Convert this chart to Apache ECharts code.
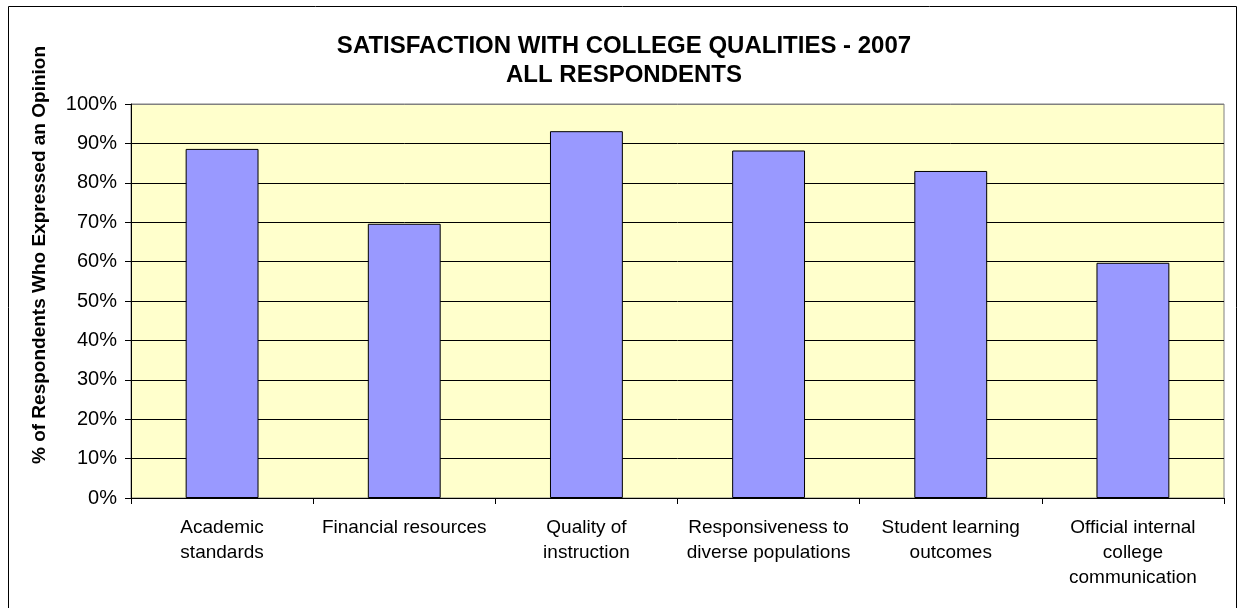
<!DOCTYPE html>
<html>
<head>
<meta charset="utf-8">
<style>
  html, body { margin: 0; padding: 0; background: #ffffff; }
  #chart { width: 1238px; height: 608px; }
</style>
<script src="https://cdn.jsdelivr.net/npm/echarts@6/dist/echarts.min.js"></script>
</head>
<body>
<div id="chart"></div>
<script>
// Survey categories (line breaks as printed under the axis)
const categories = [
  'Academic\nstandards',
  'Financial resources',
  'Quality of\ninstruction',
  'Responsiveness to\ndiverse populations',
  'Student learning\noutcomes',
  'Official internal\ncollege\ncommunication'
];
// Share of respondents satisfied, in percent
const satisfied = [88.6, 69.6, 93.1, 88.2, 83.0, 59.7];
const yTicks = { min: 0, max: 100, interval: 10 };

const chart = echarts.init(document.getElementById('chart'), null, { renderer: 'canvas' });
const FONT = '"Liberation Sans", Arial, sans-serif';

// Gridlines are black; the topmost one sits on the grey plot border
const gridColors = [];
for (let v = yTicks.min; v <= yTicks.max; v += yTicks.interval) {
  gridColors.push(v === yTicks.max ? '#808080' : '#000000');
}

chart.setOption({
  animation: false,
  backgroundColor: '#ffffff',
  title: {
    text: 'SATISFACTION WITH COLLEGE QUALITIES - 2007\nALL RESPONDENTS',
    left: 619,
    top: 27,
    textAlign: 'center',
    textStyle: { fontFamily: FONT, fontSize: 24, fontWeight: 'bold', color: '#000', lineHeight: 29 }
  },
  graphic: [
    {
      type: 'rect',
      shape: { x: 8.5, y: 6.5, width: 1228, height: 610 },
      style: { fill: 'none', stroke: '#000', lineWidth: 1 },
      silent: true
    },
    {
      // value-axis title, set a little above the plot's middle
      type: 'text',
      x: 40, y: 255,
      rotation: Math.PI / 2,
      style: {
        text: '% of Respondents Who Expressed an Opinion',
        fontFamily: FONT, fontSize: 19, fontWeight: 'bold', fill: '#000',
        align: 'center', verticalAlign: 'middle'
      },
      silent: true
    }
  ],
  grid: {
    left: 131, right: 14, top: 104, bottom: 110,
    show: true,
    backgroundColor: '#FFFFCC',
    borderColor: '#808080',
    borderWidth: 1
  },
  xAxis: {
    type: 'category',
    data: categories,
    axisLine: { lineStyle: { color: '#000', width: 1 } },
    axisTick: { show: true, alignWithLabel: false, length: 6, lineStyle: { color: '#000' } },
    axisLabel: {
      interval: 0, margin: 17, color: '#000',
      fontFamily: FONT, fontSize: 19, lineHeight: 25
    },
    splitLine: { show: false }
  },
  yAxis: {
    type: 'value',
    min: yTicks.min, max: yTicks.max, interval: yTicks.interval,
    axisLine: { show: true, lineStyle: { color: '#000', width: 1 } },
    axisTick: { show: true, length: 6, lineStyle: { color: '#000' } },
    axisLabel: {
      formatter: '{value}%', color: '#000', margin: 14,
      fontFamily: FONT, fontSize: 20
    },
    splitLine: { show: true, lineStyle: { color: gridColors, width: 1 } }
  },
  series: [{
    type: 'bar',
    data: satisfied,
    barCategoryGap: '60%',
    itemStyle: { color: '#9999FF', borderColor: '#000', borderWidth: 1 },
    emphasis: { disabled: true }
  }]
});
</script>
</body>
</html>
